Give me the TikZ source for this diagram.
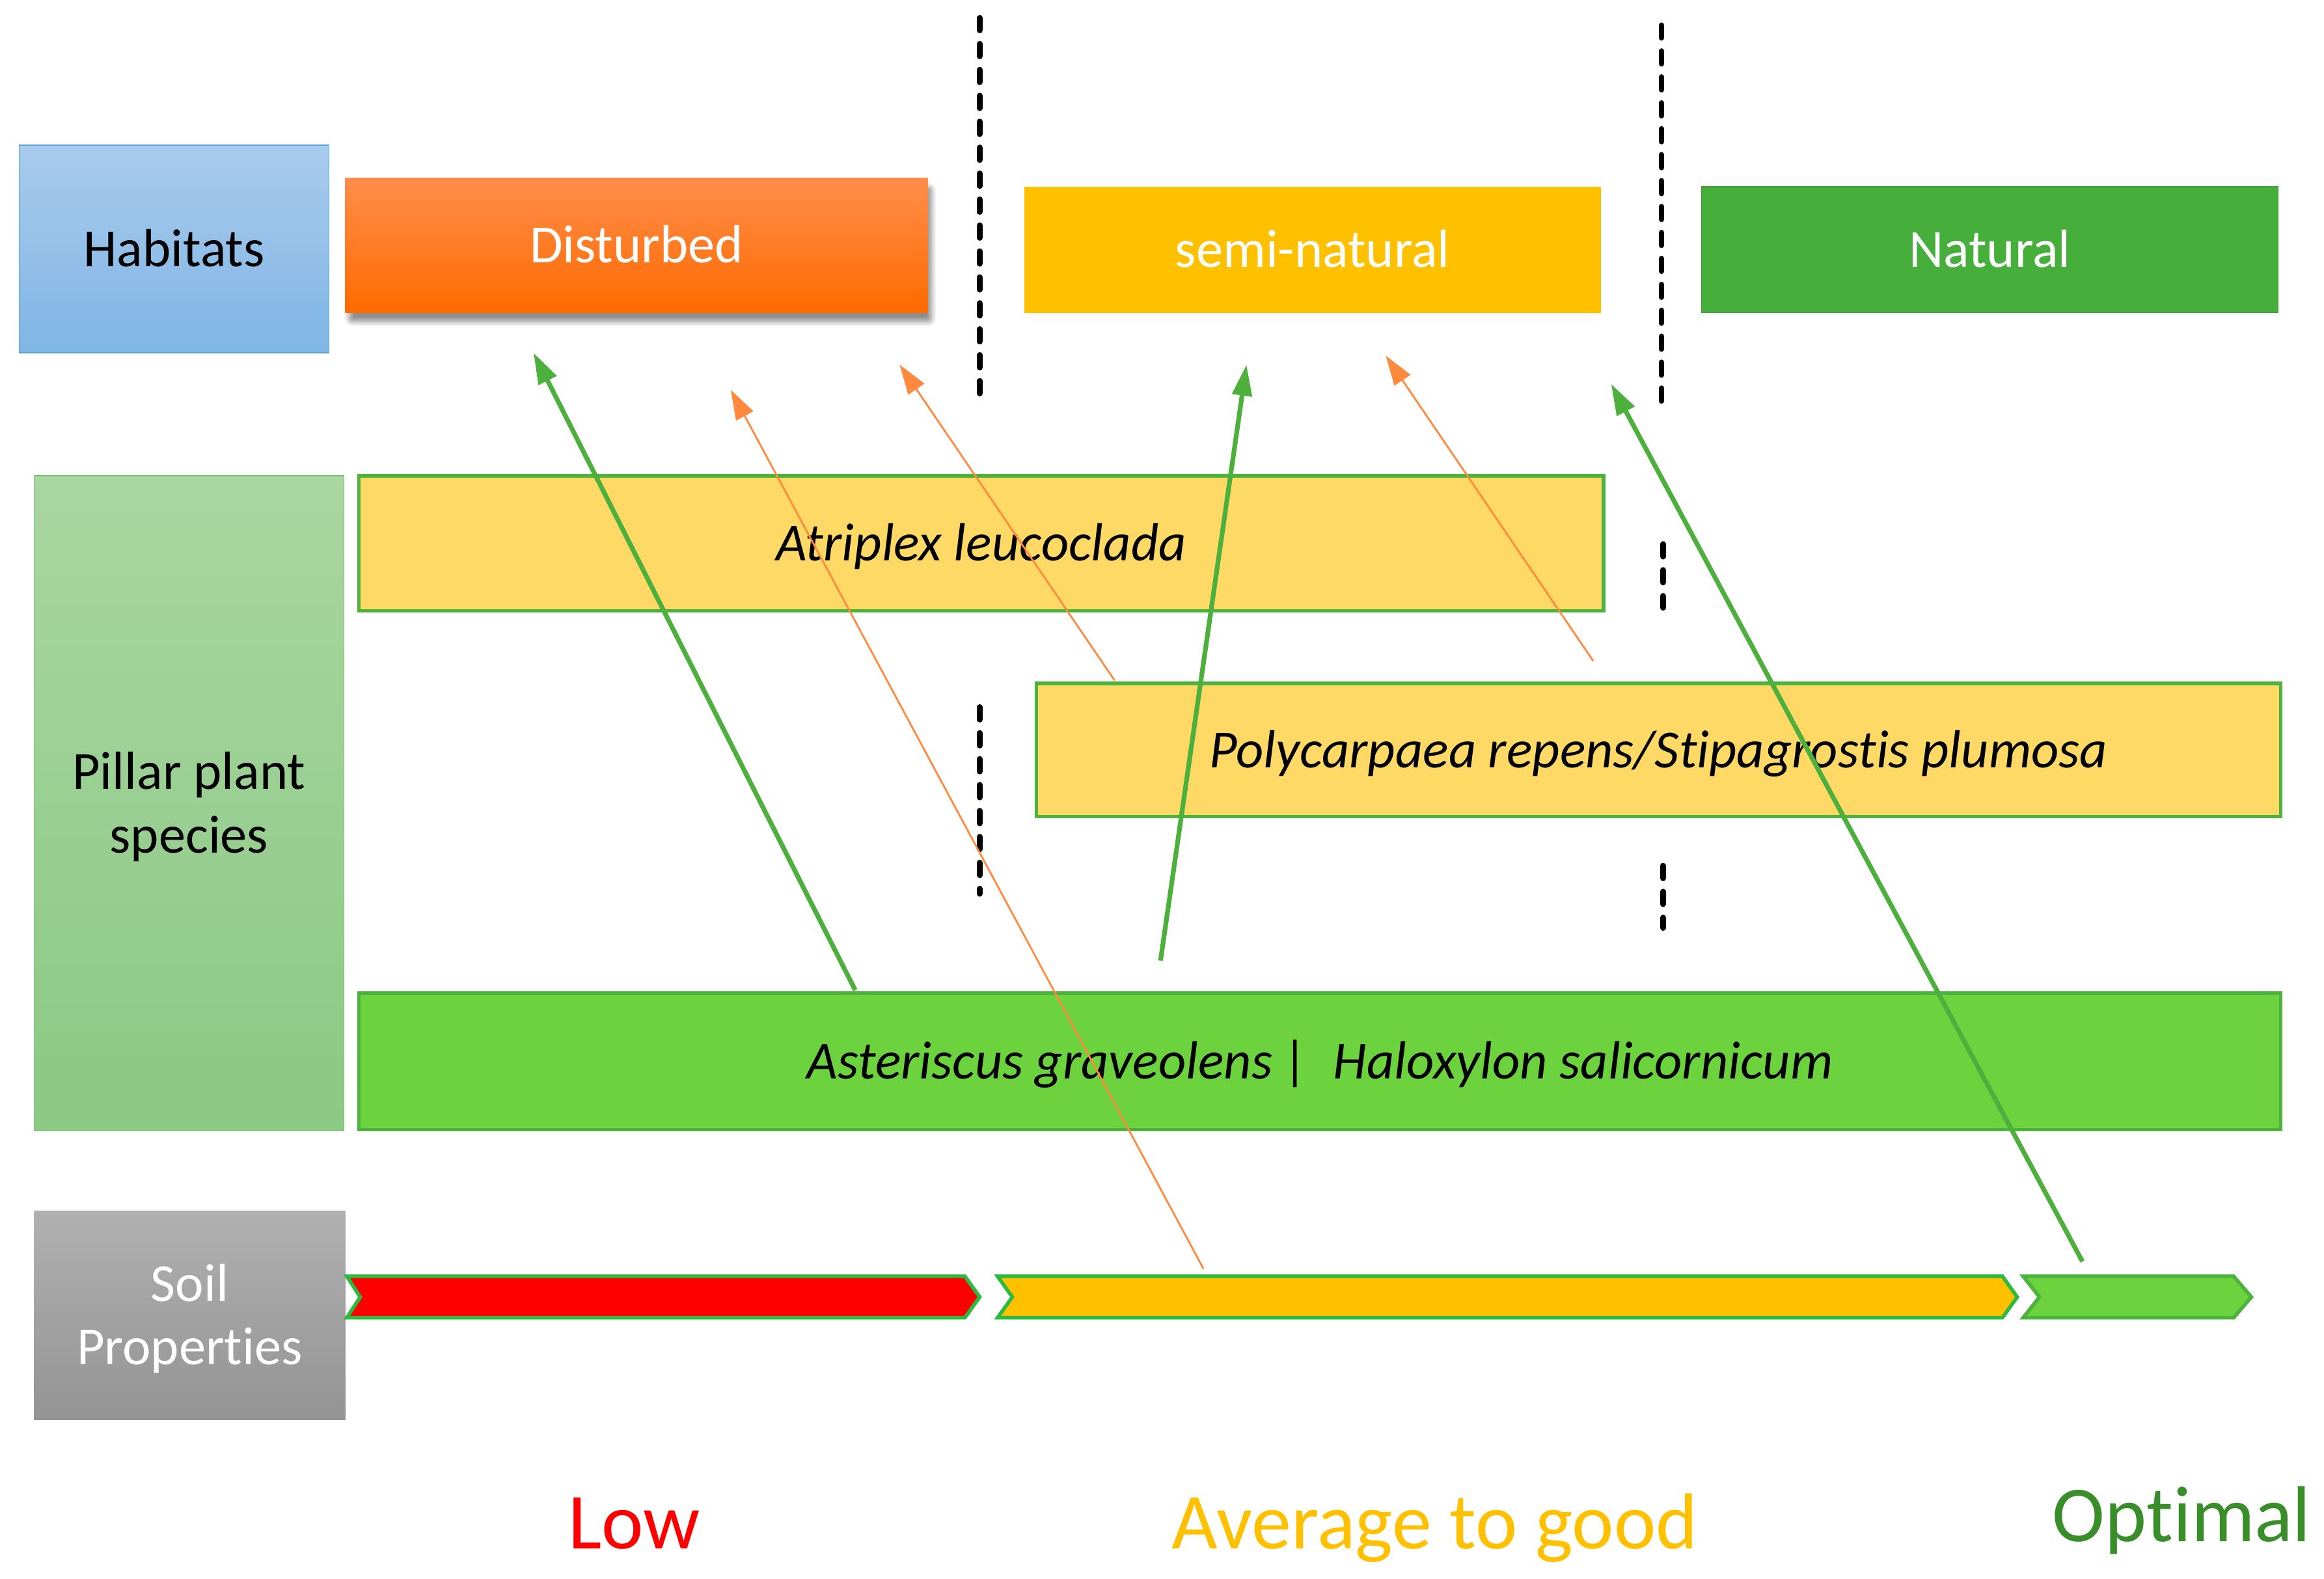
\documentclass[tikz,border=0pt]{standalone}
\usepackage{fontspec}
\setmainfont{Carlito}[Ligatures=NoCommon]
\usepackage{tikz}
\usetikzlibrary{arrows.meta,shadows.blur}

\definecolor{habtop}{HTML}{A9CBEC}
\definecolor{habbot}{HTML}{7FB5E5}
\definecolor{habline}{HTML}{5AA5E0}
\definecolor{disttop}{HTML}{FF8D4A}
\definecolor{distbot}{HTML}{FF6A00}
\definecolor{semiyellow}{HTML}{FFC000}
\definecolor{natgreen}{HTML}{46AE3A}
\definecolor{pilltop}{HTML}{A9D6A1}
\definecolor{pillbot}{HTML}{8BC984}
\definecolor{pillline}{HTML}{76C46C}
\definecolor{plantyellow}{HTML}{FFD966}
\definecolor{bargreen}{HTML}{4CB43C}
\definecolor{soilline}{HTML}{2DBB3F}
\definecolor{astergreen}{HTML}{6CD33F}
\definecolor{soiltop}{HTML}{B0B0B0}
\definecolor{soilbot}{HTML}{949494}
\definecolor{lowred}{HTML}{FF0000}
\definecolor{optgreen}{HTML}{3A8E2A}
\definecolor{arrowgreen}{HTML}{4DB03D}
\definecolor{arroworange}{HTML}{FF8A3D}

\tikzset{
  box/.style={rectangle, inner sep=0pt, align=center,
    text height=13.4pt, text depth=0pt,
    font=\fontsize{20.6}{24.4}\selectfont},
  twoline/.style={text height=37.8pt, text depth=0pt},
  plantbar/.style={box, fill=plantyellow, draw=bargreen, line width=1.3pt,
    font=\fontsize{20.6}{24.4}\selectfont\itshape},
  soilbar/.style={draw=soilline, line width=1.4pt, line join=miter},
  greenarrow/.style={draw=arrowgreen, line width=1.8pt,
    -{Triangle[length=0.42cm,width=0.26cm]}},
  orangearrow/.style={draw=arroworange, line width=0.7pt,
    -{Triangle[length=0.40cm,width=0.26cm]}},
  divider/.style={black, line width=2.2pt, line cap=round,
    dash pattern=on 0.17cm off 0.18cm},
  scalelabel/.style={anchor=base, font=\fontsize{30.5}{36}\selectfont},
}

\begin{document}
\begin{tikzpicture}[x=0.02cm,y=-0.02cm]
  \useasboundingbox (0,0) rectangle (1568,1065);

  % 虚线分隔
  \draw[divider] (661,12) -- (661,273);
  \draw[divider] (1121,17) -- (1121,278);
  \draw[divider] (1122,367) -- (1122,410);
  \draw[divider] (661,477) -- (661,603);
  \draw[divider] (1122,584) -- (1122,626);

  % 生境
  \node[box, draw=habline, top color=habtop, bottom color=habbot,
    minimum width=4.18cm, minimum height=2.8cm] (habitats) at (117.5,168) {Habitats};
  \node[box, text=white, top color=disttop, bottom color=distbot,
    blur shadow={shadow xshift=0.05cm, shadow yshift=-0.12cm, shadow blur steps=8,
      shadow blur extra rounding=0.05cm, shadow opacity=45},
    minimum width=7.86cm, minimum height=1.82cm] (disturbed) at (429.5,165.5) {Disturbed};
  \node[box, text=white, fill=semiyellow,
    minimum width=7.78cm, minimum height=1.7cm] (semi) at (885.5,168.5) {semi-natural};
  \node[box, text=white, fill=natgreen, draw=natgreen!90!black,
    minimum width=7.78cm, minimum height=1.7cm] (natural) at (1342.5,168.5) {Natural};

  % 植物种
  \node[box, twoline, draw=pillline, top color=pilltop, bottom color=pillbot,
    minimum width=4.18cm, minimum height=8.84cm] (pillar) at (127.5,542) {Pillar plant\\species};
  \node[plantbar, minimum width=16.8cm, minimum height=1.82cm] (atriplex) at (662,366.5)
    {Atriplex leucoclada};
  \node[plantbar, minimum width=16.8cm, minimum height=1.8cm] (polycarp) at (1119,506)
    {Polycarpaea repens/Stipagrostis plumosa};
  \node[plantbar, fill=astergreen, minimum width=25.94cm, minimum height=1.84cm] (aster)
    at (890.5,716) {Asteriscus graveolens |\ \ Haloxylon salicornicum};

  % 土壤
  \node[box, twoline, text=white, top color=soiltop, bottom color=soilbot,
    minimum width=4.2cm, minimum height=2.82cm] (soil) at (128,887.5) {Soil\\Properties};
  \draw[soilbar, fill=lowred] (234,861) -- (651,861) -- (661,875) -- (651,889)
    -- (234,889) -- (243,875) -- cycle;
  \draw[soilbar, fill=semiyellow] (673,861) -- (1351,861) -- (1361,875) -- (1351,889)
    -- (673,889) -- (683,875) -- cycle;
  \draw[soilbar, draw=bargreen, fill=astergreen] (1365,861) -- (1507,861) -- (1519,875)
    -- (1507,889) -- (1365,889) -- (1376,875) -- cycle;

  \node[scalelabel, text=lowred] (low) at (428,1045) {Low};
  \node[scalelabel, text=semiyellow] (average) at (968,1045) {Average to good};
  \node[scalelabel, text=optgreen] (optimal) at (1472,1040) {Optimal};

  % 箭头端点
  \coordinate (g1s) at (577,668);  \coordinate (g1e) at (360,238);
  \coordinate (o1s) at (812,856);  \coordinate (o1e) at (493,263);
  \coordinate (o2s) at (752,459);  \coordinate (o2e) at (607,246);
  \coordinate (g2s) at (783,648);  \coordinate (g2e) at (841,246);
  \coordinate (o3s) at (1075,446); \coordinate (o3e) at (935,240);
  \coordinate (g3s) at (1405,851); \coordinate (g3e) at (1087,259);

  \draw[greenarrow] (g1s) -- (g1e);
  \draw[orangearrow] (o1s) -- (o1e);
  \draw[orangearrow] (o2s) -- (o2e);
  \draw[greenarrow] (g2s) -- (g2e);
  \draw[orangearrow] (o3s) -- (o3e);
  \draw[greenarrow] (g3s) -- (g3e);
\end{tikzpicture}
\end{document}
